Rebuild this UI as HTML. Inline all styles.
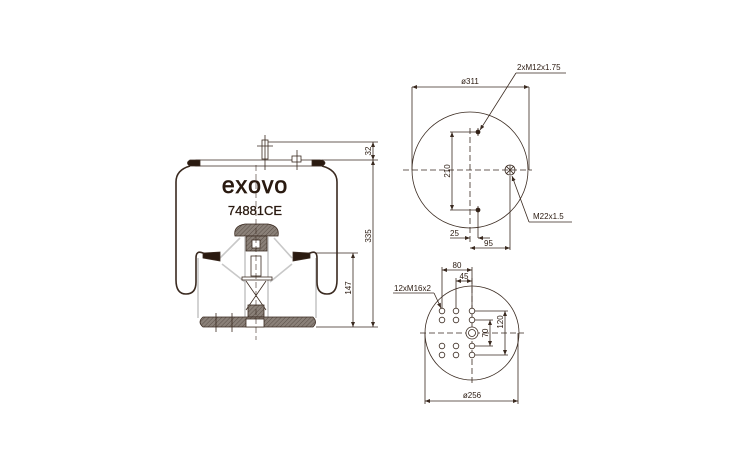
<!DOCTYPE html>
<html><head><style>body{margin:0;background:#fff}svg{display:block}</style></head><body>
<svg width="746" height="469" viewBox="0 0 746 469" xmlns="http://www.w3.org/2000/svg" font-family="Liberation Sans, sans-serif">
<defs>
<pattern id="h" width="3" height="3" patternUnits="userSpaceOnUse" patternTransform="rotate(45)"><rect width="3" height="3" fill="#8a8078"/><line x1="0" y1="0" x2="0" y2="3" stroke="#5a4f48" stroke-width="1"/></pattern>
<marker id="a" markerWidth="6" markerHeight="6" refX="5" refY="3" orient="auto-start-reverse" markerUnits="userSpaceOnUse"><path d="M0,1 L5,3 L0,5z" fill="#3a2a20"/></marker>
</defs>
<g stroke="#3a2a20" fill="none" stroke-width="0.8">
<g stroke="#c8c8c8" stroke-width="1.6">
<path d="M198,258 L198,318 M316,258 L316,318"/>
<path d="M220,258 L240,238 M292,258 L274,238 M222,264 L245,282 M292,264 L270,282"/>
<path d="M245,237 L245,320 M268,237 L268,320"/>
</g>
<path d="M196,160 L320,160 Q326,165 322,166 L196,166 Q188,165 196,160Z" fill="#fff"/>
<path d="M190,160 Q185,163 190,166 L200,166 L200,160Z M322,160 Q328,163 322,166 L312,166 L312,160Z" fill="#2a1a10"/>
<path d="M190,166 Q176,170 176,182 L176,280 Q176,294 186,294 Q196,294 196,282 L196,258 Q196,250 203,253 L215,258 M322,166 Q337,170 337,182 L337,280 Q337,294 327,294 Q317,294 317,282 L317,258 Q317,250 310,253 L298,258" stroke-width="1.6"/>
<path d="M203,253 L220,252 L220,261 L203,258Z M310,253 L293,252 L293,261 L310,258Z" fill="#2a1a10"/>
<path d="M235,236 Q233,226 245,224 L268,224 Q280,226 278,236Z" fill="url(#h)"/>
<rect x="246" y="236" width="21" height="15" fill="url(#h)"/>
<rect x="252" y="240" width="8" height="8" fill="#fff"/>
<rect x="251" y="256" width="10" height="20" fill="#fff"/>
<rect x="242" y="277" width="30" height="3" fill="#fff"/>
<path d="M246,281 L266,310 M266,281 L246,310"/>
<rect x="248" y="305" width="16" height="12" fill="url(#h)"/>
<path d="M203,317 L313,317 Q318,322 313,327 L203,327 Q197,322 203,317Z" fill="url(#h)"/>
<rect x="246" y="319" width="18" height="8" fill="#fff"/>
<path d="M216,313 L216,332 M232,313 L232,332" />
<rect x="262" y="140" width="6" height="19" fill="#fff"/>
<path d="M265,135 L265,170 M257,146 L273,146"/>
<rect x="292" y="156" width="9" height="6" fill="#fff"/>
<path d="M297,150 L297,170"/>
<path d="M256,165 L256,340" stroke-dasharray="6,3" stroke-width="0.6"/>
<path d="M268,142 L378,142 M322,160 L378,160 M315,253 L358,253 M316,327 L378,327"/>
<line x1="373" y1="142" x2="373" y2="160" marker-start="url(#a)" marker-end="url(#a)"/>
<line x1="373" y1="160" x2="373" y2="327" marker-start="url(#a)" marker-end="url(#a)"/>
<line x1="353" y1="253" x2="353" y2="327" marker-start="url(#a)" marker-end="url(#a)"/>
<circle cx="470" cy="170" r="58"/>
<path d="M403,170 L532,170 M470,128 L470,245" stroke-dasharray="6,3"/>
<path d="M412,87 L412,170 M529,87 L529,170"/>
<line x1="412" y1="87" x2="529" y2="87" marker-start="url(#a)" marker-end="url(#a)"/>
<circle cx="478" cy="132" r="2" fill="#2a1a10"/><circle cx="478" cy="210" r="2" fill="#2a1a10"/>
<path d="M478,128 L478,136 M478,206 L478,238"/>
<path d="M450,132 L478,132 M450,210 L478,210"/>
<line x1="452" y1="132" x2="452" y2="210" marker-start="url(#a)" marker-end="url(#a)"/>
<circle cx="510" cy="170" r="5"/><path d="M506,166 L514,174 M514,166 L506,174 M510,165 L510,175"/>
<path d="M510,176 L510,250"/>
<line x1="450" y1="238" x2="470" y2="238" marker-end="url(#a)"/>
<line x1="490" y1="238" x2="478" y2="238" marker-end="url(#a)"/>
<line x1="470" y1="248" x2="510" y2="248" marker-start="url(#a)" marker-end="url(#a)"/>
<line x1="516" y1="73" x2="480" y2="130" marker-end="url(#a)"/>
<path d="M516,73 L566,73 M529,222 L572,222"/>
<line x1="529" y1="222" x2="512" y2="176" marker-end="url(#a)"/>
<circle cx="472" cy="333" r="47"/>
<path d="M420,333 L524,333 M472,278 L472,385" stroke-dasharray="6,3"/>
<g fill="#fff">
<circle cx="442" cy="311" r="2.8"/><circle cx="456" cy="311" r="2.8"/><circle cx="472" cy="311" r="2.8"/>
<circle cx="442" cy="320" r="2.8"/><circle cx="456" cy="320" r="2.8"/><circle cx="472" cy="320" r="2.8"/>
<circle cx="442" cy="346" r="2.8"/><circle cx="456" cy="346" r="2.8"/><circle cx="472" cy="346" r="2.8"/>
<circle cx="442" cy="355" r="2.8"/><circle cx="456" cy="355" r="2.8"/><circle cx="472" cy="355" r="2.8"/>
<circle cx="472" cy="333" r="6"/><circle cx="472" cy="333" r="3.5"/>
</g>
<path d="M442,267 L442,308 M456,278 L456,308 M472,267 L472,308"/>
<line x1="442" y1="270" x2="472" y2="270" marker-start="url(#a)" marker-end="url(#a)"/>
<line x1="456" y1="281" x2="472" y2="281" marker-start="url(#a)" marker-end="url(#a)"/>
<path d="M475,320 L493,320 M475,346 L493,346 M475,311 L508,311 M475,355 L508,355"/>
<line x1="490" y1="320" x2="490" y2="346" marker-start="url(#a)" marker-end="url(#a)"/>
<line x1="505" y1="311" x2="505" y2="355" marker-start="url(#a)" marker-end="url(#a)"/>
<path d="M425,333 L425,404 M518,333 L518,404"/>
<line x1="425" y1="401" x2="518" y2="401" marker-start="url(#a)" marker-end="url(#a)"/>
<path d="M393,293 L434,293"/>
<line x1="434" y1="293" x2="441" y2="308" marker-end="url(#a)"/>
</g>
<g fill="#2a1a10" font-size="8">
<text x="255" y="193" font-size="23" stroke="#2a1a10" stroke-width="0.7" text-anchor="middle" letter-spacing="1">exovo</text>
<text x="255" y="215" font-size="13" stroke="#2a1a10" stroke-width="0.3" text-anchor="middle">74881CE</text>
<text transform="translate(371,151) rotate(-90)" text-anchor="middle">32</text>
<text transform="translate(371,236) rotate(-90)" text-anchor="middle">335</text>
<text transform="translate(351,288) rotate(-90)" text-anchor="middle">147</text>
<text x="470" y="84" text-anchor="middle">ø311</text>
<text x="517" y="70">2xM12x1.75</text>
<text x="533" y="219">M22x1.5</text>
<text transform="translate(450,171) rotate(-90)" text-anchor="middle">210</text>
<text x="450" y="236">25</text>
<text x="484" y="246">95</text>
<text x="457" y="268" text-anchor="middle">80</text>
<text x="464" y="279" text-anchor="middle">45</text>
<text x="394" y="291">12xM16x2</text>
<text transform="translate(488,333) rotate(-90)" text-anchor="middle">70</text>
<text transform="translate(503,322) rotate(-90)" text-anchor="middle">120</text>
<text x="472" y="398" text-anchor="middle">ø256</text>
</g>
</svg>
</body></html>
